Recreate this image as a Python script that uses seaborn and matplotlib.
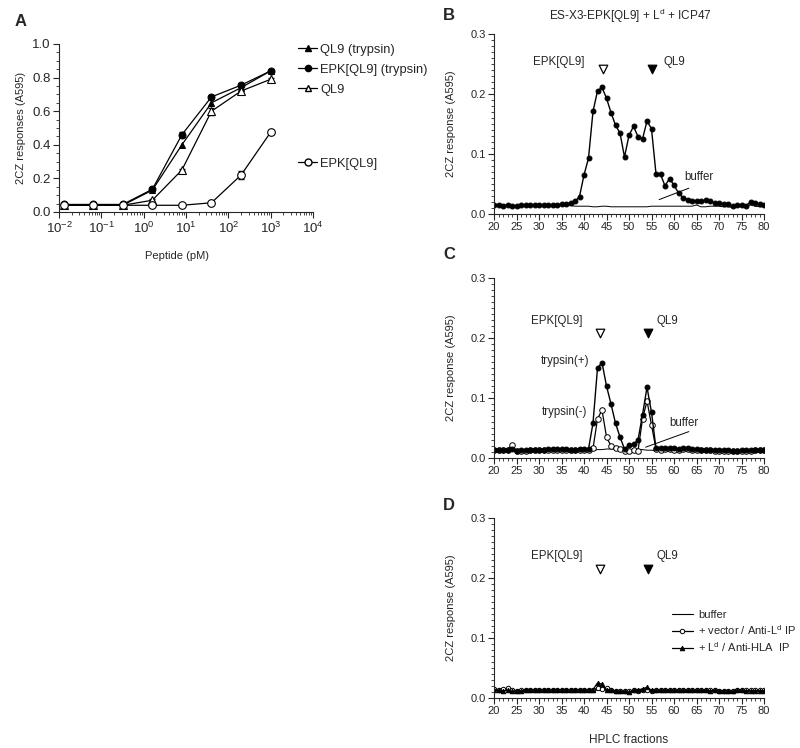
import numpy as np
import pandas as pd
import matplotlib
matplotlib.use("Agg")
import matplotlib.pyplot as plt
from matplotlib.ticker import MultipleLocator, LogLocator, NullFormatter
from matplotlib.lines import Line2D
import seaborn as sns

# ---- data: panel A (dose response) ----
peptide_pm = [0.0128, 0.064, 0.32, 1.6, 8, 40, 200, 1000]
ql9_tryp = [0.040, 0.040, 0.040, 0.130, 0.400, 0.650, 0.740, 0.840]
epk_tryp = [0.045, 0.045, 0.045, 0.135, 0.460, 0.685, 0.755, 0.840]
ql9 = [0.040, 0.040, 0.040, 0.070, 0.250, 0.600, 0.720, 0.790]
epk = [0.040, 0.040, 0.040, 0.040, 0.040, 0.055, 0.220, 0.475]
epk_tryp_err = [0.004, 0.003, 0.003, 0.008, 0.015, 0.008, 0.008, 0.006]
ql9_err = [0.003, 0.003, 0.003, 0.006, 0.008, 0.020, 0.010, 0.010]
epk_err = [0.003, 0.003, 0.003, 0.003, 0.003, 0.004, 0.025, 0.012]
xtick_labels_a = ["$10^{-2}$", "$10^{-1}$", "$10^{0}$", "$10^{1}$", "$10^{2}$", "$10^{3}$", "$10^{4}$"]

# ---- data: HPLC fractions 20..80 ----
fractions = list(range(20, 81))

b_sample = [0.015, 0.015, 0.014, 0.015, 0.014, 0.014, 0.015, 0.015, 0.015, 0.015,
            0.015, 0.015, 0.015, 0.015, 0.015, 0.016, 0.017, 0.018, 0.021, 0.029,
            0.065, 0.093, 0.171, 0.205, 0.211, 0.193, 0.169, 0.148, 0.135, 0.095,
            0.131, 0.146, 0.129, 0.125, 0.155, 0.142, 0.067, 0.066, 0.047, 0.059,
            0.048, 0.035, 0.027, 0.024, 0.021, 0.022, 0.021, 0.023, 0.022, 0.018,
            0.019, 0.017, 0.016, 0.013, 0.015, 0.015, 0.014, 0.020, 0.018, 0.016,
            0.015]
b_buffer = [0.014, 0.014, 0.014, 0.014, 0.014, 0.014, 0.014, 0.014, 0.014, 0.014,
            0.014, 0.014, 0.014, 0.014, 0.014, 0.014, 0.014, 0.014, 0.013, 0.013,
            0.013, 0.013, 0.012, 0.012, 0.013, 0.013, 0.012, 0.012, 0.012, 0.012,
            0.012, 0.012, 0.012, 0.012, 0.012, 0.013, 0.013, 0.013, 0.013, 0.013,
            0.013, 0.013, 0.013, 0.013, 0.013, 0.015, 0.012, 0.012, 0.013, 0.013,
            0.013, 0.012, 0.012, 0.011, 0.012, 0.012, 0.013, 0.015, 0.013, 0.012,
            0.012]

c_tryp_plus = [0.014, 0.014, 0.013, 0.014, 0.015, 0.012, 0.013, 0.013, 0.014, 0.014,
               0.014, 0.014, 0.015, 0.015, 0.015, 0.015, 0.015, 0.014, 0.014, 0.015,
               0.015, 0.015, 0.058, 0.150, 0.159, 0.120, 0.090, 0.058, 0.035, 0.015,
               0.021, 0.023, 0.030, 0.072, 0.118, 0.076, 0.016, 0.016, 0.016, 0.017,
               0.016, 0.015, 0.016, 0.016, 0.015, 0.015, 0.014, 0.014, 0.014, 0.013,
               0.013, 0.013, 0.013, 0.012, 0.012, 0.013, 0.013, 0.013, 0.013, 0.013,
               0.014]
c_tryp_minus = [0.014, 0.013, 0.013, 0.014, 0.022, 0.012, 0.012, 0.012, 0.013, 0.013,
                0.013, 0.013, 0.013, 0.014, 0.014, 0.014, 0.014, 0.014, 0.014, 0.014,
                0.014, 0.014, 0.016, 0.065, 0.080, 0.035, 0.020, 0.016, 0.015, 0.012,
                0.011, 0.013, 0.012, 0.065, 0.095, 0.055, 0.015, 0.014, 0.015, 0.015,
                0.014, 0.014, 0.015, 0.015, 0.014, 0.014, 0.013, 0.013, 0.013, 0.012,
                0.012, 0.012, 0.011, 0.012, 0.012, 0.012, 0.012, 0.012, 0.013, 0.013,
                0.013]
c_buffer = [0.012, 0.012, 0.012, 0.012, 0.012, 0.012, 0.012, 0.012, 0.012, 0.012,
            0.012, 0.012, 0.012, 0.012, 0.012, 0.012, 0.012, 0.012, 0.012, 0.012,
            0.012, 0.013, 0.013, 0.014, 0.014, 0.015, 0.015, 0.015, 0.015, 0.014,
            0.014, 0.014, 0.014, 0.014, 0.013, 0.013, 0.012, 0.012, 0.012, 0.012,
            0.012, 0.012, 0.012, 0.012, 0.012, 0.012, 0.012, 0.012, 0.012, 0.012,
            0.012, 0.012, 0.012, 0.012, 0.012, 0.012, 0.012, 0.012, 0.012, 0.012,
            0.012]

d_buffer = [0.013, 0.013, 0.013, 0.013, 0.013, 0.012, 0.012, 0.012, 0.013, 0.013,
            0.013, 0.013, 0.013, 0.013, 0.013, 0.013, 0.013, 0.013, 0.013, 0.013,
            0.013, 0.013, 0.013, 0.013, 0.013, 0.013, 0.013, 0.012, 0.012, 0.012,
            0.012, 0.012, 0.012, 0.012, 0.012, 0.012, 0.012, 0.012, 0.012, 0.012,
            0.012, 0.012, 0.012, 0.012, 0.012, 0.012, 0.012, 0.012, 0.012, 0.012,
            0.012, 0.012, 0.012, 0.012, 0.012, 0.012, 0.012, 0.012, 0.012, 0.012,
            0.012]
d_vector = [0.015, 0.014, 0.015, 0.016, 0.014, 0.012, 0.013, 0.014, 0.014, 0.014,
            0.014, 0.014, 0.014, 0.014, 0.014, 0.014, 0.014, 0.014, 0.014, 0.014,
            0.014, 0.014, 0.014, 0.016, 0.015, 0.016, 0.013, 0.012, 0.011, 0.011,
            0.011, 0.013, 0.012, 0.014, 0.013, 0.012, 0.013, 0.013, 0.013, 0.013,
            0.013, 0.013, 0.013, 0.013, 0.013, 0.013, 0.013, 0.013, 0.013, 0.013,
            0.012, 0.012, 0.012, 0.012, 0.014, 0.013, 0.013, 0.013, 0.013, 0.013,
            0.013]
d_ld = [0.014, 0.013, 0.012, 0.013, 0.011, 0.012, 0.012, 0.014, 0.014, 0.014,
        0.014, 0.014, 0.014, 0.014, 0.014, 0.014, 0.014, 0.014, 0.014, 0.014,
        0.014, 0.014, 0.014, 0.025, 0.023, 0.014, 0.013, 0.012, 0.011, 0.011,
        0.010, 0.013, 0.014, 0.015, 0.018, 0.013, 0.013, 0.013, 0.013, 0.013,
        0.013, 0.013, 0.013, 0.013, 0.013, 0.013, 0.013, 0.013, 0.012, 0.013,
        0.012, 0.012, 0.012, 0.011, 0.013, 0.013, 0.012, 0.012, 0.012, 0.012,
        0.012]

# elution marks (fraction) for EPK[QL9] / QL9 in panels B, C, D
peak_b = [44.2, 55.0]
peak_c = [43.6, 54.2]
peak_d = [43.6, 54.2]

sns.set_style("ticks")
plt.rcParams["font.family"] = ["Liberation Sans", "DejaVu Sans"]
plt.rcParams["mathtext.default"] = "regular"
plt.rcParams["axes.linewidth"] = 0.8

W, H = 800, 748
fig = plt.figure(figsize=(8, 7.48), dpi=100)


def px_axes(left, top, right, bottom):
    return fig.add_axes([left / W, 1 - bottom / H, (right - left) / W, (bottom - top) / H])


def style_axes(ax, fs):
    sns.despine(ax=ax)
    ax.tick_params(which="major", direction="out", length=4, width=0.8, labelsize=fs, pad=2)
    ax.tick_params(which="minor", direction="out", length=2, width=0.6)


# ---------------- Panel A ----------------
axA = px_axes(59, 44, 313, 212)
lw = 0.9
sns.lineplot(x=peptide_pm, y=ql9_tryp, ax=axA, color="black", lw=lw, marker="^",
             markersize=5, markerfacecolor="black", markeredgecolor="black")
axA.errorbar(peptide_pm, epk_tryp, yerr=epk_tryp_err, fmt="none", ecolor="black", elinewidth=0.7, capsize=2)
sns.lineplot(x=peptide_pm, y=epk_tryp, ax=axA, color="black", lw=lw, marker="o",
             markersize=5, markerfacecolor="black", markeredgecolor="black")
axA.errorbar(peptide_pm, ql9, yerr=ql9_err, fmt="none", ecolor="black", elinewidth=0.7, capsize=2)
sns.lineplot(x=peptide_pm, y=ql9, ax=axA, color="black", lw=lw, marker="^",
             markersize=5.5, markerfacecolor="white", markeredgecolor="black", markeredgewidth=0.8)
axA.errorbar(peptide_pm, epk, yerr=epk_err, fmt="none", ecolor="black", elinewidth=0.7, capsize=2)
sns.lineplot(x=peptide_pm, y=epk, ax=axA, color="black", lw=lw, marker="o",
             markersize=5.5, markerfacecolor="white", markeredgecolor="black", markeredgewidth=0.8)
axA.set_xscale("log")
axA.set_xlim(0.01, 1e4)
axA.set_ylim(0, 1.0)
axA.set_xticks([1e-2, 1e-1, 1e0, 1e1, 1e2, 1e3, 1e4])
axA.set_xticklabels(xtick_labels_a)
axA.xaxis.set_minor_locator(LogLocator(base=10, subs=np.arange(2, 10), numticks=20))
axA.xaxis.set_minor_formatter(NullFormatter())
axA.yaxis.set_minor_locator(MultipleLocator(0.05))
axA.set_yticks([0, 0.2, 0.4, 0.6, 0.8, 1.0])
axA.set_yticklabels(["0.0", "0.2", "0.4", "0.6", "0.8", "1.0"])
style_axes(axA, 9.5)
axA.set_xlabel("Peptide (pM)", fontsize=8)
axA.xaxis.set_label_coords((177 - 59) / 254, -0.23)
axA.set_ylabel("2CZ responses (A595)", fontsize=8)
axA.yaxis.set_label_coords(-0.13, 0.5)

mk = dict(color="black", lw=0.9, markeredgecolor="black")
h_ql9t = Line2D([], [], marker="^", markersize=4.5, markerfacecolor="black", **mk)
h_epkt = Line2D([], [], marker="o", markersize=4.5, markerfacecolor="black", **mk)
h_ql9 = Line2D([], [], marker="^", markersize=5, markerfacecolor="white", **mk)
h_epk = Line2D([], [], marker="o", markersize=5, markerfacecolor="white", **mk)
leg_kw = dict(loc="upper left", frameon=False, fontsize=9.3, handlelength=1.4, handletextpad=0.3, borderpad=0)
legA1 = axA.legend([h_ql9t, h_epkt, h_ql9], ["QL9 (trypsin)", "EPK[QL9] (trypsin)", "QL9"],
                   bbox_to_anchor=((292 - 59) / 254, (212 - 37) / 168), labelspacing=0.62, **leg_kw)
axA.add_artist(legA1)
axA.legend([h_epk], ["EPK[QL9]"], bbox_to_anchor=((292 - 59) / 254, (212 - 151) / 168), **leg_kw)

fig.text(15 / W, 1 - 21 / H, "A", fontsize=12, fontweight="bold", va="center", ha="left")


# ---------------- Panels B, C, D ----------------
def hplc_axes(top, bottom):
    ax = px_axes(494, top, 764, bottom)
    ax.set_xlim(20, 80)
    ax.set_ylim(0, 0.3)
    ax.xaxis.set_major_locator(MultipleLocator(5))
    ax.xaxis.set_minor_locator(MultipleLocator(1))
    ax.yaxis.set_minor_locator(MultipleLocator(0.01))
    ax.set_yticks([0, 0.1, 0.2, 0.3])
    ax.set_yticklabels(["0.0", "0.1", "0.2", "0.3"])
    style_axes(ax, 8)
    return ax


def finish_hplc(ax, peaks, y_mark, y_text, qx):
    ax.set_ylabel("2CZ response (A595)", fontsize=8)
    ax.yaxis.set_label_coords(-0.14, 0.5)
    ax.scatter([peaks[0]], [y_mark], marker="v", s=38, facecolor="white", edgecolor="black", linewidth=0.9, zorder=5)
    ax.scatter([peaks[1]], [y_mark], marker="v", s=38, facecolor="black", edgecolor="black", linewidth=0.9, zorder=5)
    ax.text(peaks[0] - 4.0, y_text, "EPK[QL9]", fontsize=8.3, ha="right", va="center")
    ax.text(qx, y_text, "QL9", fontsize=8.3, ha="left", va="center")


df_b = pd.DataFrame({"fraction": fractions, "sample": b_sample, "buffer": b_buffer})
axB = hplc_axes(34, 214)
sns.lineplot(data=df_b, x="fraction", y="buffer", ax=axB, color="black", lw=0.7)
sns.lineplot(data=df_b, x="fraction", y="sample", ax=axB, color="black", lw=1.0, marker="o",
             markersize=3.5, markerfacecolor="black", markeredgecolor="black")
axB.set_xlabel("")
finish_hplc(axB, peak_b, 0.241, 0.253, 57.6)
axB.plot([56.7, 63.3], [0.024, 0.043], color="black", lw=0.7)
axB.text(62.2, 0.062, "buffer", fontsize=8.3, ha="left", va="center")
axB.set_title("ES-X3-EPK[QL9] + L$^{d}$ + ICP47", fontsize=8.5, pad=10, x=(630 - 494) / 270)
fig.text(443 / W, 1 - 15 / H, "B", fontsize=12, fontweight="bold", va="center", ha="left")

df_c = pd.DataFrame({"fraction": fractions, "plus": c_tryp_plus, "minus": c_tryp_minus, "buffer": c_buffer})
axC = hplc_axes(278, 458)
sns.lineplot(data=df_c, x="fraction", y="buffer", ax=axC, color="black", lw=0.7)
sns.lineplot(data=df_c, x="fraction", y="minus", ax=axC, color="black", lw=0.9, marker="o",
             markersize=4, markerfacecolor="white", markeredgecolor="black", markeredgewidth=0.7)
sns.lineplot(data=df_c, x="fraction", y="plus", ax=axC, color="black", lw=1.0, marker="o",
             markersize=3.5, markerfacecolor="black", markeredgecolor="black")
axC.set_xlabel("")
finish_hplc(axC, peak_c, 0.208, 0.229, 56.1)
axC.text(41.2, 0.161, "trypsin(+)", fontsize=8.3, ha="right", va="center")
axC.text(40.8, 0.077, "trypsin(-)", fontsize=8.3, ha="right", va="center")
axC.plot([53.7, 63.3], [0.018, 0.044], color="black", lw=0.7)
axC.text(59.0, 0.058, "buffer", fontsize=8.3, ha="left", va="center")
fig.text(443 / W, 1 - 255 / H, "C", fontsize=12, fontweight="bold", va="center", ha="left")

df_d = pd.DataFrame({"fraction": fractions, "buffer": d_buffer, "vector": d_vector, "ld": d_ld})
axD = hplc_axes(518, 698)
sns.lineplot(data=df_d, x="fraction", y="buffer", ax=axD, color="black", lw=0.8, label="buffer")
sns.lineplot(data=df_d, x="fraction", y="vector", ax=axD, color="black", lw=0.9, marker="o",
             markersize=3.2, markerfacecolor="white", markeredgecolor="black", markeredgewidth=0.7,
             label="+ vector / Anti-L$^d$ IP")
sns.lineplot(data=df_d, x="fraction", y="ld", ax=axD, color="black", lw=0.9, marker="^",
             markersize=3.2, markerfacecolor="black", markeredgecolor="black",
             label="+ L$^d$ / Anti-HLA  IP")
axD.set_xlabel("HPLC fractions", fontsize=8.5)
axD.xaxis.set_label_coords(0.5, -0.2)
finish_hplc(axD, peak_d, 0.215, 0.236, 56.1)
axD.legend(loc="upper left", bbox_to_anchor=((666 - 494) / 270, (698 - 604) / 180), frameon=False,
           fontsize=8, handlelength=1.9, handletextpad=0.5, labelspacing=0.3, borderpad=0)
fig.text(443 / W, 1 - 505 / H, "D", fontsize=12, fontweight="bold", va="center", ha="left")

fig.savefig("out.png", dpi=100)
